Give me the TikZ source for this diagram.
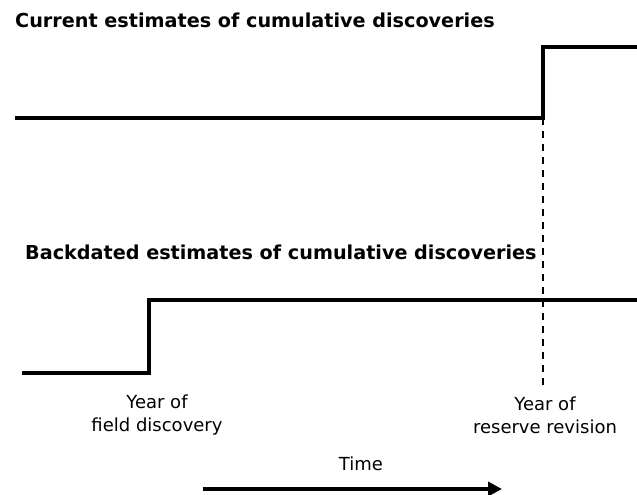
\documentclass[tikz,border=0pt]{standalone}
\usepackage{fontspec}
\setmainfont{DejaVu Sans}
\usetikzlibrary{positioning,arrows.meta}

\begin{document}
\begin{tikzpicture}[x=1pt,y=-1pt,
	step line/.style={line width=3.2pt},
	guide line/.style={line width=2.2pt, dash pattern=on 7pt off 6pt},
	heading/.style={font=\bfseries\fontsize{19.2}{23}\selectfont, anchor=base west, inner sep=0pt},
	year label/.style={font=\fontsize{18}{23}\selectfont, align=center, inner sep=0pt}]
	\useasboundingbox (0,0) rectangle (637,495);
	% current estimates
	\node[heading] (current) at (15,28) {Current estimates of cumulative discoveries};
	\coordinate (c0) at (15,118);
	\coordinate (c1) at (543,118);
	\coordinate (c2) at (543,47);
	\coordinate (c3) at (637,47);
	\draw[step line] (c0) -- (c1) -- (c2) -- (c3);
	% backdated estimates
	\node[heading] (backdated) at (25,259) {Backdated estimates of cumulative discoveries};
	\coordinate (b0) at (22,373);
	\coordinate (b1) at (149,373);
	\coordinate (b2) at (149,300);
	\coordinate (b3) at (637,300);
	\draw[step line] (b0) -- (b1) -- (b2) -- (b3);
	% revision year
	\coordinate (r0) at (543,385);
	\draw[guide line] (c1) -- (r0);
	\node[year label] (discovery) at (157,415) {Year of\\field discovery};
	\node[year label] (revision) at (545,415) {Year of\\reserve revision};
	% time axis
	\node[font=\fontsize{18}{22}\selectfont, inner sep=0pt, anchor=base] (time) at (361,470) {Time};
	\coordinate (t0) at (203,489);
	\coordinate (t1) at (502,489);
	\draw[line width=4pt, -{Triangle[length=14pt,width=14pt]}] (t0) -- (t1);
\end{tikzpicture}
\end{document}
